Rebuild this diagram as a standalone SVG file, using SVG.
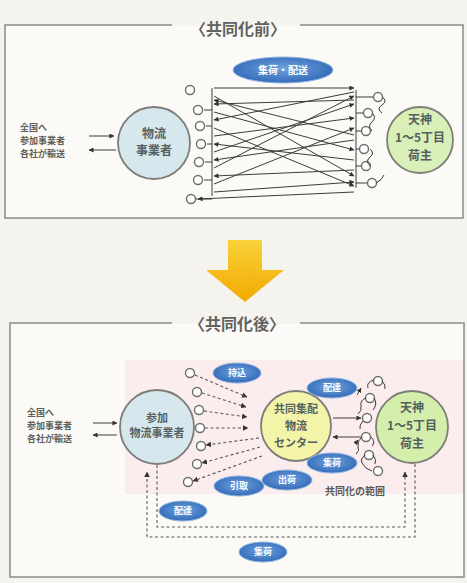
<svg xmlns="http://www.w3.org/2000/svg" width="467" height="583" viewBox="0 0 467 583">
<defs>
<style>
text{font-family:"Noto Sans CJK JP","Noto Sans",sans-serif;font-weight:bold}
.frame{fill:#fbfaf6;stroke:#8a8a86;stroke-width:1.5}
.title{font-size:16px;fill:#626260;text-anchor:middle}
.node{stroke:#7d7d78;stroke-width:1.8}
.ntext{font-size:12px;fill:#55605f;text-anchor:middle}
.side{font-size:9px;fill:#5e5e5a}
.badge{fill:url(#bg);stroke:#8fb4e0;stroke-width:1}
.btext{font-size:9px;fill:#ffffff;text-anchor:middle}
.sc{fill:#ffffff;stroke:#6e6e6a;stroke-width:1.4}
.ln{stroke:#3c3c3c;stroke-width:1;fill:none}
.dl{stroke:#5a5a5a;stroke-width:1.1;fill:none;stroke-dasharray:3 2.5}
</style>
<radialGradient id="bg" cx="0.5" cy="0.45" r="0.6">
<stop offset="0" stop-color="#6fa3e0"/>
<stop offset="1" stop-color="#2f66b4"/>
</radialGradient>
<linearGradient id="ay" x1="0" y1="0" x2="0" y2="1">
<stop offset="0" stop-color="#f9d23a"/>
<stop offset="1" stop-color="#f2a900"/>
</linearGradient>
<marker id="ah" viewBox="0 0 6 6" refX="5.5" refY="3" markerWidth="5" markerHeight="5" orient="auto-start-reverse">
<path d="M0,0 L6,3 L0,6 z" fill="#333"/>
</marker>
</defs>
<rect width="467" height="583" fill="#f4f3ee"/>

<!-- Top frame -->
<g id="frame-before">
<rect class="frame" x="5" y="25" width="458" height="193"/>
<rect x="172" y="18" width="128" height="16" fill="#f4f3ee"/>
<rect x="172" y="26" width="128" height="8" fill="#fbfaf6"/>
<text class="title" x="238" y="35">〈共同化前〉</text>
</g>

<g id="badge-top">
<ellipse class="badge" cx="283" cy="70" rx="50" ry="13"/>
<text class="btext" x="283" y="74" style="font-size:10px">集荷・配送</text>
</g>

<g id="text-top-left">
<text class="side" x="20" y="131">全国へ</text>
<text class="side" x="20" y="144">参加事業者</text>
<text class="side" x="20" y="157">各社が輸送</text>
</g>

<g id="node-carrier-before">
<circle class="node" cx="154" cy="143" r="36" fill="#d7e7ee"/>
<text class="ntext" x="154" y="138">物流</text>
<text class="ntext" x="154" y="155">事業者</text>
</g>

<g id="node-shipper-before">
<circle class="node" cx="420" cy="140" r="33" fill="#d9efb8"/>
<text class="ntext" x="420" y="124">天神</text>
<text class="ntext" x="420" y="142">1〜5丁目</text>
<text class="ntext" x="420" y="160">荷主</text>
</g>

<g id="points-before">
<circle class="sc" cx="190" cy="90" r="4.5"/>
<circle class="sc" cx="198" cy="110" r="4.5"/>
<circle class="sc" cx="200" cy="126" r="4.5"/>
<circle class="sc" cx="201" cy="144" r="4.5"/>
<circle class="sc" cx="199" cy="162" r="4.5"/>
<circle class="sc" cx="198" cy="180" r="4.5"/>
<circle class="sc" cx="191" cy="199" r="4.5"/>
<circle class="sc" cx="378" cy="97" r="4.5"/>
<circle class="sc" cx="368" cy="113" r="4.5"/>
<circle class="sc" cx="366" cy="131" r="4.5"/>
<circle class="sc" cx="364" cy="149" r="4.5"/>
<circle class="sc" cx="366" cy="166" r="4.5"/>
<circle class="sc" cx="372" cy="183" r="4.5"/>
</g>

<g id="connectors-before">
<line class="ln" x1="114" y1="136" x2="89" y2="136" marker-start="url(#ah)"/>
<line class="ln" x1="89" y1="150" x2="116" y2="150" marker-start="url(#ah)"/>
<path class="ln" d="M212,88 V196 M356,90 V188"/>
<path class="ln" d="M204,110 H212 M206,126 H212 M207,144 H212 M205,162 H212 M204,180 H212 M196,199 H212"/>
<path class="ln" d="M356,97 H373 M356,113 H363 M356,131 H361 M356,149 H359 M356,166 H361 M356,183 H367"/>
<path class="ln" d="M382,97 q6,4 0,8 q-6,4 0,8 M372,113 q5,4 0,9 q-5,4 0,9 M370,149 q5,4 0,8 q-5,4 0,9 M376,183 q6,-3 8,-8"/>
<line class="ln" x1="214" y1="88" x2="354" y2="88" marker-end="url(#ah)"/>
<line class="ln" x1="214" y1="96" x2="354" y2="176" marker-end="url(#ah)"/>
<line class="ln" x1="214" y1="104" x2="354" y2="100" marker-start="url(#ah)"/>
<line class="ln" x1="214" y1="112" x2="354" y2="150" marker-end="url(#ah)"/>
<line class="ln" x1="214" y1="120" x2="354" y2="92" marker-start="url(#ah)"/>
<line class="ln" x1="214" y1="128" x2="354" y2="186" marker-end="url(#ah)"/>
<line class="ln" x1="214" y1="136" x2="354" y2="118" marker-end="url(#ah)"/>
<line class="ln" x1="214" y1="144" x2="354" y2="160" marker-start="url(#ah)"/>
<line class="ln" x1="214" y1="152" x2="354" y2="104" marker-end="url(#ah)"/>
<line class="ln" x1="214" y1="160" x2="354" y2="140" marker-start="url(#ah)"/>
<line class="ln" x1="214" y1="168" x2="354" y2="96" marker-end="url(#ah)"/>
<line class="ln" x1="214" y1="176" x2="354" y2="170" marker-start="url(#ah)"/>
<line class="ln" x1="214" y1="184" x2="354" y2="128" marker-end="url(#ah)"/>
<line class="ln" x1="214" y1="192" x2="354" y2="182" marker-end="url(#ah)"/>
<line class="ln" x1="214" y1="100" x2="354" y2="135" marker-start="url(#ah)"/>
<line class="ln" x1="198" y1="199" x2="354" y2="192" marker-start="url(#ah)"/>
</g>

<!-- Big arrow -->
<g id="big-arrow">
<polygon points="228,240 262,240 262,270 284,270 245,302 206,270 228,270" fill="url(#ay)"/>
</g>

<!-- Bottom frame -->
<g id="frame-after">
<rect class="frame" x="10" y="323" width="454" height="254"/>
<rect x="125" y="360" width="338" height="134" fill="#fbeced"/>
<rect x="172" y="314" width="128" height="16" fill="#f4f3ee"/>
<rect x="172" y="324" width="128" height="6" fill="#fbfaf6"/>
<text class="title" x="237" y="330">〈共同化後〉</text>
</g>

<g id="text-bottom-left">
<text class="side" x="27" y="416">全国へ</text>
<text class="side" x="27" y="429">参加事業者</text>
<text class="side" x="27" y="442">各社が輸送</text>
</g>

<g id="node-carrier-after">
<circle class="node" cx="157" cy="427" r="37" fill="#d7e7ee"/>
<text class="ntext" x="157" y="422" style="font-size:11px">参加</text>
<text class="ntext" x="157" y="437" style="font-size:11px">物流事業者</text>
</g>

<g id="node-center">
<circle class="node" cx="296" cy="426" r="35" fill="#f3f4a8"/>
<text class="ntext" x="296" y="413" style="font-size:11px">共同集配</text>
<text class="ntext" x="296" y="430" style="font-size:11px">物流</text>
<text class="ntext" x="296" y="447" style="font-size:11px">センター</text>
</g>

<g id="node-shipper-after">
<circle class="node" cx="412" cy="427" r="36" fill="#d4efac"/>
<text class="ntext" x="412" y="412">天神</text>
<text class="ntext" x="412" y="430">1〜5丁目</text>
<text class="ntext" x="412" y="448">荷主</text>
</g>

<g id="points-after">
<circle class="sc" cx="190" cy="373" r="4.5"/>
<circle class="sc" cx="197" cy="392" r="4.5"/>
<circle class="sc" cx="199" cy="410" r="4.5"/>
<circle class="sc" cx="200" cy="428" r="4.5"/>
<circle class="sc" cx="201" cy="446" r="4.5"/>
<circle class="sc" cx="197" cy="464" r="4.5"/>
<circle class="sc" cx="188" cy="482" r="4.5"/>
<circle class="sc" cx="378" cy="381" r="4.5"/>
<circle class="sc" cx="370" cy="398" r="4.5"/>
<circle class="sc" cx="367" cy="418" r="4.5"/>
<circle class="sc" cx="366" cy="437" r="4.5"/>
<circle class="sc" cx="369" cy="455" r="4.5"/>
<circle class="sc" cx="378" cy="471" r="4.5"/>
</g>

<g id="connectors-after">
<line class="ln" x1="93" y1="423" x2="117" y2="423" marker-end="url(#ah)"/>
<line class="ln" x1="117" y1="435" x2="93" y2="435" marker-end="url(#ah)"/>
<line class="dl" x1="195" y1="375" x2="247" y2="397" marker-end="url(#ah)"/>
<line class="dl" x1="202" y1="393" x2="246" y2="407" marker-end="url(#ah)"/>
<line class="dl" x1="204" y1="411" x2="247" y2="417" marker-end="url(#ah)"/>
<line class="dl" x1="205" y1="428" x2="248" y2="428" marker-end="url(#ah)"/>
<line class="dl" x1="259" y1="438" x2="206" y2="445" marker-end="url(#ah)"/>
<line class="dl" x1="260" y1="447" x2="202" y2="463" marker-end="url(#ah)"/>
<line class="dl" x1="262" y1="456" x2="193" y2="481" marker-end="url(#ah)"/>
<line class="ln" x1="333" y1="418" x2="361" y2="418" marker-end="url(#ah)"/>
<line class="ln" x1="361" y1="437" x2="333" y2="437" marker-end="url(#ah)"/>
<path class="ln" d="M374,380 q-8,2 -6,8 M366,398 q-6,2 -5,8 q1,5 -3,8 M363,421 q-4,4 -3,8 M362,437 q-5,4 -4,9 q2,5 -2,8 M365,455 q-5,4 -3,8 q3,6 10,8"/>
<path class="ln" d="M382,381 q4,4 3,8 M374,398 q4,6 -1,12 M371,437 q5,5 1,9 M373,455 q4,5 2,9"/>
<line class="ln" x1="352" y1="468" x2="356" y2="460" marker-end="url(#ah)"/>
<line class="ln" x1="357" y1="395" x2="361" y2="388" marker-end="url(#ah)"/>
<line class="ln" x1="355" y1="444" x2="358" y2="440" marker-end="url(#ah)"/>
<polyline class="dl" points="415,464 415,537 147,537 147,472" marker-end="url(#ah)"/>
<polyline class="dl" points="157,465 157,527 405,527 405,472" marker-end="url(#ah)"/>
</g>

<g id="badges-after">
<ellipse class="badge" cx="237" cy="373" rx="24" ry="10"/>
<text class="btext" x="237" y="376">持込</text>
<ellipse class="badge" cx="332" cy="388" rx="25" ry="10"/>
<text class="btext" x="332" y="391">配達</text>
<ellipse class="badge" cx="332" cy="463" rx="25" ry="10"/>
<text class="btext" x="332" y="466">集荷</text>
<ellipse class="badge" cx="239" cy="486" rx="25" ry="10"/>
<text class="btext" x="239" y="489">引取</text>
<ellipse class="badge" cx="287" cy="480" rx="25" ry="10"/>
<text class="btext" x="287" y="483">出荷</text>
<ellipse class="badge" cx="183" cy="511" rx="24" ry="10"/>
<text class="btext" x="183" y="514">配達</text>
<ellipse class="badge" cx="263" cy="552" rx="24" ry="10"/>
<text class="btext" x="263" y="555">集荷</text>
</g>

<g id="label-range">
<text x="355" y="495" style="font-size:10px;fill:#5a5a56;text-anchor:middle">共同化の範囲</text>
</g>
</svg>
